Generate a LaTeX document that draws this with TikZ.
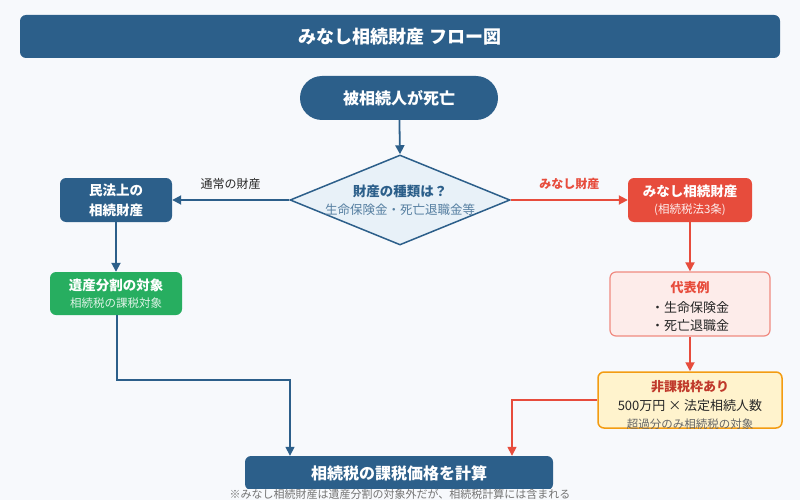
\documentclass[tikz,border=0pt]{standalone}
\usepackage{fontspec}
\setmainfont{Noto Sans CJK JP}
\usetikzlibrary{shapes.geometric,arrows.meta}
\definecolor{navy}{HTML}{2C5F8A}
\definecolor{bg}{HTML}{F7F9FC}
\definecolor{rd}{HTML}{E74C3C}
\definecolor{gr}{HTML}{27AE60}
\definecolor{pinkf}{HTML}{FDECEA}
\definecolor{pinkb}{HTML}{F08A80}
\definecolor{yel}{HTML}{FFF3CD}
\definecolor{org}{HTML}{F39C12}
\definecolor{dred}{HTML}{C0392B}
\definecolor{lb}{HTML}{E8F1F8}
\begin{document}
\begin{tikzpicture}[x=1pt,y=-1pt,
 box/.style={rounded corners=6pt,inner sep=0pt,align=center},
 ba/.style={-{Triangle[length=9pt,width=9pt]},line width=1.8pt,navy},
 ra/.style={-{Triangle[length=9pt,width=9pt]},line width=1.8pt,rd},
 t/.style={inner sep=0pt},
 bt/.style={inner sep=0pt,font=\bfseries\fontsize{13.5}{15}\selectfont},
 st/.style={inner sep=0pt,font=\fontsize{11.5}{13}\selectfont},
 lbl/.style={font=\fontsize{12}{14}\selectfont}]
\fill[bg] (0,0) rectangle (800,500);
\useasboundingbox (0,0) rectangle (800,500);
\node[box,fill=navy,text=white,minimum width=760pt,minimum height=43pt,font=\bfseries\fontsize{18}{20}\selectfont] (title) at (400,36.5) {みなし相続財産 フロー図};
\node[box,rounded corners=22pt,fill=navy,text=white,minimum width=198pt,minimum height=44pt,font=\bfseries\fontsize{16}{18}\selectfont] (start) at (399,98) {被相続人が死亡};
\node[diamond,draw=navy,line width=1.5pt,fill=lb,minimum width=220pt,minimum height=90pt,inner sep=0pt] (dia) at (400,200) {};
\node[navy,bt] (dt) at (400,191) {財産の種類は？};
\node[navy!80,t,font=\fontsize{12.5}{14}\selectfont] (ds) at (400,210) {生命保険金・死亡退職金等};
\node[box,fill=navy,minimum width=112pt,minimum height=44pt] (civ) at (116,200) {};
\node[bt,white] (civ1) at (116,190) {民法上の};
\node[bt,white] (civ2) at (116,210) {相続財産};
\node[box,fill=rd,minimum width=124pt,minimum height=44pt] (mina) at (690,200) {};
\node[bt,white] (mina1) at (690,191) {みなし相続財産};
\node[st,white!90!rd] (mina2) at (690,210) {(相続税法3条)};
\node[box,fill=gr,minimum width=132pt,minimum height=43pt] (grn) at (116,293.5) {};
\node[bt,white] (gr1) at (116,285) {遺産分割の対象};
\node[st,white!85!gr] (gr2) at (116,303) {相続税の課税対象};
\node[box,fill=pinkf,draw=pinkb,line width=1.2pt,minimum width=160pt,minimum height=64pt] (ex) at (690,304) {};
\node[t,rd,font=\bfseries\fontsize{13}{15}\selectfont] (ex1) at (690,288) {代表例};
\node[t,black!85,font=\fontsize{13}{15}\selectfont] (ex2) at (690,308) {・生命保険金};
\node[t,black!85,font=\fontsize{13}{15}\selectfont] (ex3) at (690,326) {・死亡退職金};
\node[box,fill=yel,draw=org,line width=1.5pt,minimum width=184pt,minimum height=56pt] (nt) at (690,400) {};
\node[t,dred,font=\bfseries\fontsize{13}{15}\selectfont] (nt1) at (690,387) {非課税枠あり};
\node[t,black!85,font=\fontsize{13}{15}\selectfont] (nt2) at (690,406) {500万円 × 法定相続人数};
\node[t,black!60,font=\fontsize{11.5}{13}\selectfont] (nt3) at (690,424) {超過分のみ相続税の対象};
\node[box,fill=navy,text=white,minimum width=308pt,minimum height=34pt,font=\bfseries\fontsize{16}{18}\selectfont] (calc) at (399,473) {相続税の課税価格を計算};
\node[black!55,font=\fontsize{11}{12}\selectfont,fill=bg,inner sep=0pt] (note) at (400,494) {※みなし相続財産は遺産分割の対象外だが、相続税計算には含まれる};
\draw[ba] (start) -- (dia.north);
\draw[ba] (dia.west) -- (civ.east) node[midway,above=6pt,black!85,lbl] (l1) {通常の財産};
\draw[ra] (dia.east) -- (mina.west) node[midway,above=6pt,rd,font=\bfseries\fontsize{12}{14}\selectfont] (l2) {みなし財産};
\draw[ba] (civ) -- (grn);
\draw[ra] (mina.south) -- (ex.north);
\draw[ra] (ex) -- (nt);
\coordinate (b1) at (117,380); \coordinate (b2) at (290,380);
\draw[ba,line width=1.5pt] (grn.south-|b1) -- (b1) -- (b2) -- (b2|-calc.north);
\coordinate (r1) at (512,400);
\draw[ra,line width=1.5pt] (nt.west) -- (r1) -- (r1|-calc.north);
\end{tikzpicture}
\end{document}
